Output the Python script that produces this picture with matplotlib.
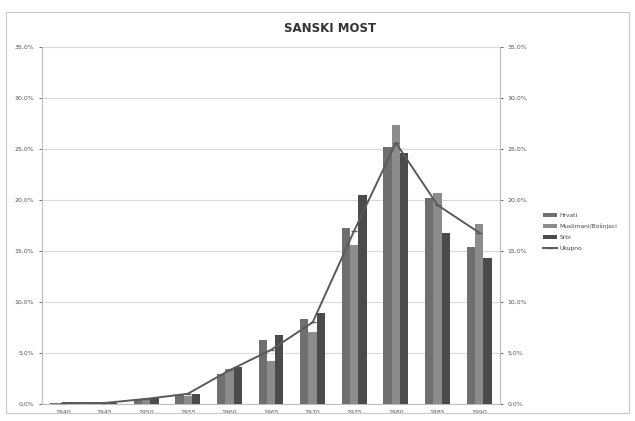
import matplotlib
matplotlib.use("Agg")
import matplotlib.pyplot as plt
import numpy as np
from matplotlib.patches import FancyBboxPatch
from matplotlib.ticker import FuncFormatter, MultipleLocator

years = ["1940", "1945", "1950", "1955", "1960", "1965",
         "1970", "1975", "1980", "1985", "1990"]
hrvati = [0.1, 0.1, 0.5, 0.9, 2.9, 6.3, 8.3, 17.3, 25.2, 20.2, 15.4]
muslimani = [0.1, 0.1, 0.6, 0.8, 3.4, 4.2, 7.1, 15.6, 27.4, 20.7, 17.6]
srbi = [0.1, 0.1, 0.6, 1.0, 3.6, 6.8, 8.9, 20.5, 24.6, 16.8, 14.3]
ukupno = [0.1, 0.1, 0.5, 1.0, 3.3, 5.3, 8.0, 17.0, 25.6, 19.5, 16.8]
series_names = ["Hrvati", "Muslimani/Bošnjaci", "Srbi", "Ukupno"]

C_HR = "#6f6f6f"
C_MU = "#8c8c8c"
C_SR = "#4b4b4b"
C_LINE = "#5a5a5a"

fig = plt.figure(figsize=(6.35, 4.21), dpi=100)
fig.patch.set_facecolor("white")
fig.patches.append(FancyBboxPatch(
    (6 / 635, 8 / 421), 623 / 635, 401 / 421, boxstyle="square,pad=0",
    transform=fig.transFigure, facecolor="none", edgecolor="#c8c8c8", linewidth=0.8,
))

ax = fig.add_axes([42 / 635, 17 / 421, 458 / 635, 357 / 421])
x = np.arange(len(years))
w = 0.2
ax.bar(x - w, hrvati, w, color=C_HR, label=series_names[0], zorder=3)
ax.bar(x, muslimani, w, color=C_MU, label=series_names[1], zorder=3)
ax.bar(x + w, srbi, w, color=C_SR, label=series_names[2], zorder=3)

pct = FuncFormatter(lambda v, _: f"{v:.1f}%".replace(".", ","))
ax.set_ylim(0, 35)
ax.set_xlim(-0.5, len(years) - 0.5)
ax.yaxis.set_major_locator(MultipleLocator(5))
ax.yaxis.set_major_formatter(pct)
ax.grid(axis="y", color="#d9d9d9", linewidth=0.8, zorder=0)
ax.set_xticks(x)
ax.set_xticklabels(years)
ax.tick_params(axis="both", labelsize=4.5, colors="#555555", length=2, width=0.6)
ax.tick_params(axis="x", length=0, pad=4)
for s in ["top", "right"]:
    ax.spines[s].set_visible(False)
ax.spines["left"].set_color("#bdbdbd")
ax.spines["bottom"].set_color("#bdbdbd")

ax2 = ax.twinx()
ax2.plot(x, ukupno, color=C_LINE, linewidth=1.4, marker="_", markersize=4,
         label=series_names[3], zorder=4)
ax2.set_ylim(0, 35)
ax2.yaxis.set_major_locator(MultipleLocator(5))
ax2.yaxis.set_major_formatter(pct)
ax2.tick_params(axis="y", labelsize=4.5, colors="#555555", length=2, width=0.6)
for s in ["top", "left", "bottom"]:
    ax2.spines[s].set_visible(False)
ax2.spines["right"].set_color("#bdbdbd")

fig.text(330 / 635, 1 - 28 / 421, "SANSKI MOST", ha="center", va="center",
         fontsize=8.5, fontweight="bold", color="#333333")

h1, l1 = ax.get_legend_handles_labels()
h2, l2 = ax2.get_legend_handles_labels()
fig.legend(h1 + h2, l1 + l2, loc="center left",
           bbox_to_anchor=(541 / 635, 1 - 232 / 421), frameon=False,
           fontsize=4.3, handlelength=2.2, handleheight=0.6, labelspacing=1.0,
           borderaxespad=0, handletextpad=0.5, labelcolor="#444444")

fig.savefig("out.png", dpi=100)
